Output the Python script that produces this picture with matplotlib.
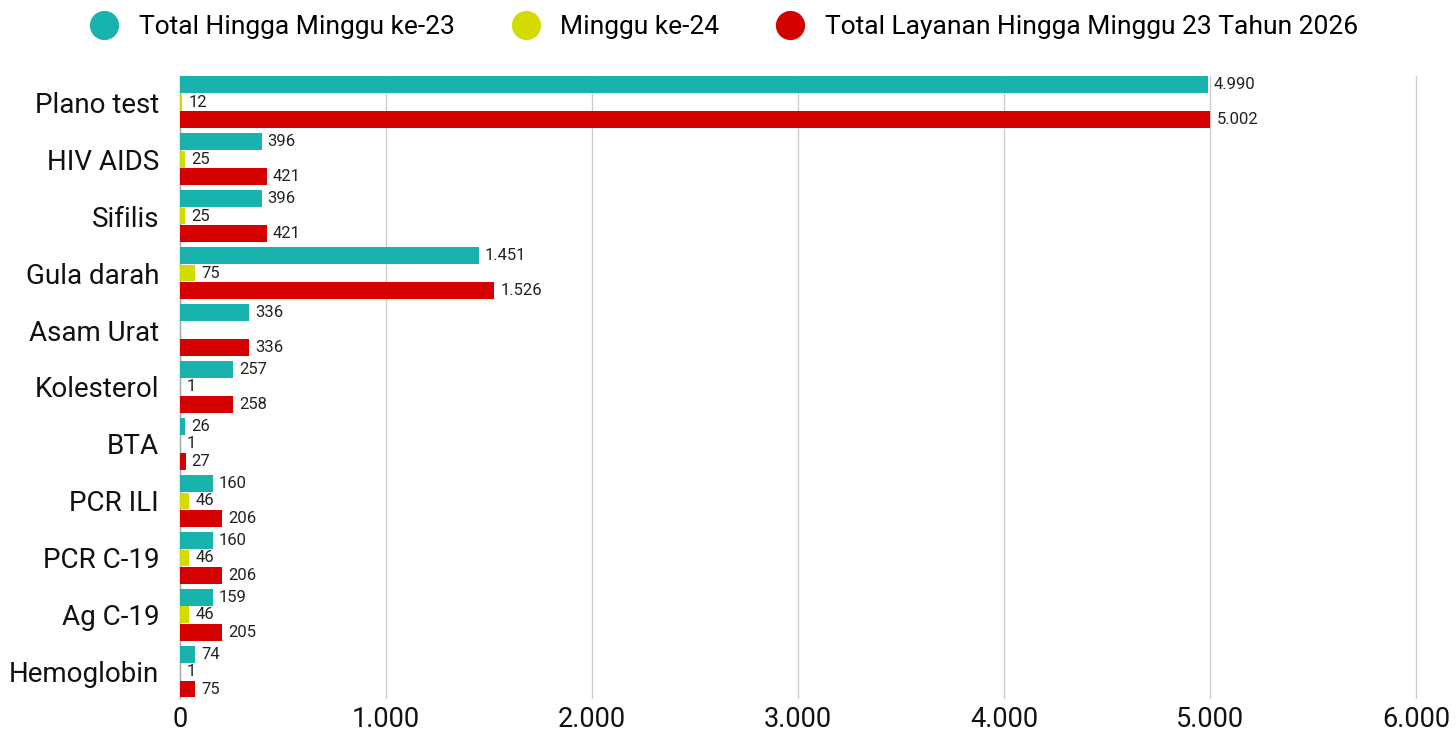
import numpy as np
import matplotlib
matplotlib.use("Agg")
import matplotlib.pyplot as plt
from matplotlib.lines import Line2D
from matplotlib.ticker import FuncFormatter

plt.rcParams['font.family'] = ['Roboto', 'DejaVu Sans']

categories = ['Plano test', 'HIV AIDS', 'Sifilis', 'Gula darah', 'Asam Urat',
              'Kolesterol', 'BTA', 'PCR ILI', 'PCR C-19', 'Ag C-19', 'Hemoglobin']
total_23 = [4990, 396, 396, 1451, 336, 257, 26, 160, 160, 159, 74]
minggu_24 = [12, 25, 25, 75, 0, 1, 1, 46, 46, 46, 1]
layanan_23 = [5002, 421, 421, 1526, 336, 258, 27, 206, 206, 205, 75]

series_names = ['Total Hingga Minggu ke-23', 'Minggu ke-24',
                'Total Layanan Hingga Minggu 23 Tahun 2026']
colors = ['#17b3ac', '#d4db00', '#d50000']


def fmt_thousands(v):
    return f"{int(round(v)):,}".replace(",", ".")


fig = plt.figure(figsize=(14.56, 7.33), dpi=100)
ax = fig.add_axes([0.1236, 0.0478, 0.8489, 0.8485])

y = np.arange(len(categories))
h = 0.305
for i, (vals, col) in enumerate(zip([total_23, minggu_24, layanan_23], colors)):
    pos = y + (i - 1) * h
    ax.barh(pos, vals, height=h - 0.012, color=col, edgecolor='none', zorder=6)
    for p, v in zip(pos, vals):
        if v == 0:
            continue
        ax.text(v + 30, p, fmt_thousands(v), va='center', ha='left',
                fontsize=12, color='#222222', zorder=7)

ax.set_xlim(0, 6000)
ax.set_ylim(10.46, -0.46)
ax.set_xticks(np.arange(0, 6001, 1000))
ax.xaxis.set_major_formatter(FuncFormatter(lambda v, _: fmt_thousands(v)))
ax.set_yticks(y)
ax.set_yticklabels(categories)
ax.tick_params(axis='both', length=0, labelsize=19.5, colors='#111111')
ax.tick_params(axis='y', labelsize=20, pad=15)
ax.tick_params(axis='x', pad=6)
ax.grid(axis='x', color='#cccccc', linewidth=1, zorder=0)
for gl in ax.get_xgridlines():
    gl.set_clip_on(False)
for s in ['top', 'right', 'bottom']:
    ax.spines[s].set_visible(False)
ax.spines['left'].set_color('#aaaaaa')
ax.spines['left'].set_linewidth(1)
ax.spines['left'].set_zorder(5)

handles = [Line2D([], [], marker='o', linestyle='none', markersize=20,
                  markerfacecolor=c, markeredgecolor=c) for c in colors]
fig.legend(handles, series_names, loc='upper center', bbox_to_anchor=(0.493, 1.012),
           ncol=3, frameon=False, fontsize=19, handletextpad=0.3, columnspacing=1.7)

fig.savefig('out.png', dpi=100)
